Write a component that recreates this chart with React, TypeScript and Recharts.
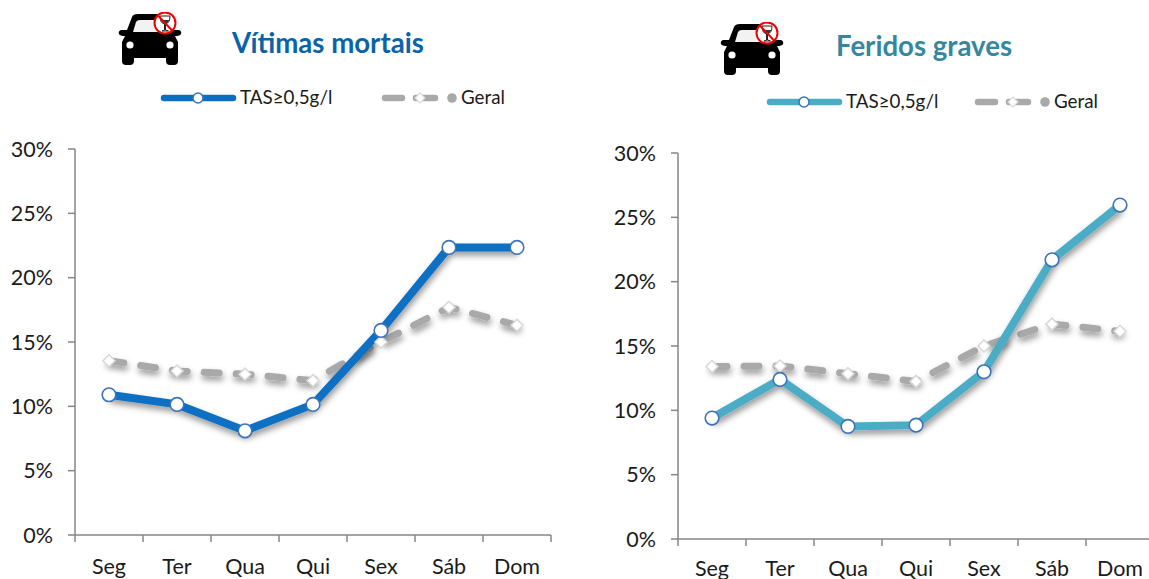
import { LineChart, Line, XAxis, YAxis } from "recharts";

const days = ["Seg", "Ter", "Qua", "Qui", "Sex", "Sáb", "Dom"];
const yTicks = [0, 5, 10, 15, 20, 25, 30];
const seriesName = "TAS≥0,5g/l";
const generalName = "Geral";

const mortaisTas = [10.9, 10.15, 8.1, 10.15, 15.9, 22.35, 22.35];
const mortaisGeral = [13.55, 12.75, 12.5, 12.0, 15.0, 17.7, 16.3];
const gravesTas = [9.4, 12.4, 8.75, 8.85, 13.0, 21.7, 25.95];
const gravesGeral = [13.4, 13.45, 12.85, 12.25, 15.0, 16.7, 16.15];

const FONT = "Lato, 'Open Sans', sans-serif";
const AXIS = "#868686";
const GREY = "#a9a9a9";
const HALF_STEP = 34;

const toRows = (tas: number[], geral: number[]) =>
  days.map((day, i) => ({ day, tas: tas[i], geral: geral[i] }));

const BlueDot = (props: any) => (
  <circle key={props.index} cx={props.cx} cy={props.cy} r={6.8} fill="#fff" stroke="#3c72b8" strokeWidth={1.6} />
);

const Diamond = (props: any) => {
  const { cx, cy, index } = props;
  return (
    <path
      key={index}
      d={`M${cx} ${cy - 6}L${cx + 6} ${cy}L${cx} ${cy + 6}L${cx - 6} ${cy}Z`}
      fill="#fff"
      stroke="#d9d9d9"
      strokeWidth={1.5}
    />
  );
};

const DayTick = (props: any) => {
  const { x, y, payload, index, labelDy } = props;
  return (
    <g>
      {index === 0 && <line x1={x - HALF_STEP} x2={x - HALF_STEP} y1={y} y2={y + 7} stroke={AXIS} strokeWidth={1.5} />}
      <line x1={x + HALF_STEP} x2={x + HALF_STEP} y1={y} y2={y + 7} stroke={AXIS} strokeWidth={1.5} />
      <text x={x} y={y + labelDy} textAnchor="middle" fontSize={21.5} fontFamily={FONT} fill="#1a1a1a">
        {payload.value}
      </text>
    </g>
  );
};

const Car = ({ left, top }: { left: number; top: number }) => (
  <svg style={{ position: "absolute", left, top }} width={66} height={56} viewBox="0 0 66 56">
    <path
      d="M14 5 Q15 2 20 2 L45 2 Q50 2 52 6 L56 18 L61 18 Q64 19 63 22 Q62 24 57 24 L60 30 L60 49 Q60 53 56 53 L52 53 Q48 53 48 49 L48 46 L16 46 L16 49 Q16 53 12 53 L8 53 Q4 53 4 49 L4 30 L7 24 Q2 24 1 22 Q0 19 3 18 L9 18 Z"
      fill="#000"
    />
    <path d="M15 20 L18 10 Q19 8 22 8 L46 8 L49 20 Z" fill="#f2f2f2" />
    <circle cx={12} cy={33} r={3.6} fill="#fff" />
    <circle cx={52} cy={33} r={3.6} fill="#fff" />
    <circle cx={47} cy={11} r={10.5} fill="#fff" stroke="#f00000" strokeWidth={2} />
    <path d="M42 4 L52 4 Q52 11 47.5 12 L47.5 18 L50.5 19 L44 19 L46.5 18 L46.5 12 Q42 11 42 4 Z" fill="#fff" stroke="#222" strokeWidth={1} />
    <path d="M42.7 8 L51.3 8 Q50 11.5 47 11.5 Q44 11.5 42.7 8 Z" fill="#333" />
    <line x1={40} y1={3.5} x2={54} y2={18.5} stroke="#f00000" strokeWidth={2} />
  </svg>
);

const Legend = ({ left, top, color, gapGeral }: { left: number; top: number; color: string; gapGeral: number }) => (
  <svg style={{ position: "absolute", left, top }} width={360} height={30} fontFamily={FONT}>
    <line x1={6} x2={75} y1={15} y2={15} stroke={color} strokeWidth={6.5} strokeLinecap="round" />
    <circle cx={40} cy={15} r={5} fill="#fff" stroke="#3c72b8" strokeWidth={1.5} />
    <text x={82} y={21} fontSize={18.8} fill="#1a1a1a">{seriesName}</text>
    <g transform={`translate(${gapGeral} 0)`}>
      <line x1={3} x2={20} y1={15} y2={15} stroke={GREY} strokeWidth={6.5} strokeLinecap="round" />
      <line x1={34} x2={53} y1={15} y2={15} stroke={GREY} strokeWidth={6.5} strokeLinecap="round" />
      <path d="M38 10L43 15L38 20L33 15Z" fill="#fff" stroke="#d9d9d9" strokeWidth={1.2} />
      <circle cx={70} cy={15} r={4.8} fill={GREY} />
      <text x={79} y={21} fontSize={18.8} fill="#1a1a1a">{generalName}</text>
    </g>
  </svg>
);

const Panel = ({ left, top, tas, geral, color, id, labelDy }: { left: number; top: number; tas: number[]; geral: number[]; color: string; id: string; labelDy: number }) => (
  <div style={{ position: "absolute", left, top }}>
    <LineChart
      width={556}
      height={450}
      data={toRows(tas, geral)}
      margin={{ top: 20, right: 5, bottom: 0, left: 0 }}
      style={{ fontFamily: FONT }}
    >
      <defs>
        <filter id={id} x="-10%" y="-20%" width="120%" height="150%">
          <feDropShadow dx="1" dy="4" stdDeviation="3" floodColor="#000" floodOpacity="0.42" />
        </filter>
      </defs>
      <XAxis
        dataKey="day"
        padding={{ left: HALF_STEP, right: HALF_STEP }}
        height={44}
        tickLine={false}
        tickSize={0}
        tickMargin={0}
        interval={0}
        tick={<DayTick labelDy={labelDy} />}
        axisLine={{ stroke: AXIS, strokeWidth: 1.5 }}
      />
      <YAxis
        width={75}
        domain={[0, 30]}
        ticks={yTicks}
        interval={0}
        tickSize={7}
        tickMargin={15}
        tickFormatter={(v: number) => `${v}%`}
        tick={{ fontSize: 21.5, fill: "#1a1a1a", fontFamily: FONT }}
        axisLine={{ stroke: AXIS, strokeWidth: 1.5 }}
        tickLine={{ stroke: AXIS, strokeWidth: 1.5 }}
      />
      <Line
        dataKey="geral"
        name={generalName}
        stroke={GREY}
        strokeWidth={7}
        strokeDasharray="15 17"
        strokeLinecap="round"
        filter={`url(#${id})`}
        dot={<Diamond />}
        isAnimationActive={false}
      />
      <Line
        dataKey="tas"
        name={seriesName}
        stroke={color}
        strokeWidth={8}
        filter={`url(#${id})`}
        dot={<BlueDot />}
        isAnimationActive={false}
      />
    </LineChart>
  </div>
);

export default function App() {
  return (
    <div style={{ position: "absolute", left: 0, top: 0, width: 1149, height: 579, overflow: "hidden", background: "#fff", fontFamily: FONT }}>
      <Car left={118} top={12} />
      <div style={{ position: "absolute", left: 232, top: 26, fontSize: 27.6, fontWeight: 700, color: "#0a63a8" }}>Vítimas mortais</div>
      <Legend left={158} top={83} color="#0a6fc2" gapGeral={224} />
      <Panel left={0} top={129} tas={mortaisTas} geral={mortaisGeral} color="#0a6fc2" id="shadowLeft" labelDy={39} />

      <Car left={720} top={22} />
      <div style={{ position: "absolute", left: 836, top: 29, fontSize: 27.6, fontWeight: 700, color: "#35869f" }}>Feridos graves</div>
      <Legend left={764} top={87} color="#4bacc6" gapGeral={211} />
      <Panel left={603} top={133} tas={gravesTas} geral={gravesGeral} color="#4bacc6" id="shadowRight" labelDy={37} />
    </div>
  );
}
